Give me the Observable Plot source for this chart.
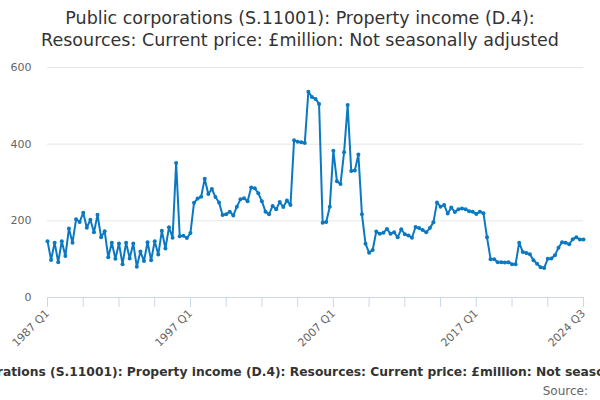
<!DOCTYPE html>
<html>
<head>
<meta charset="utf-8">
<script src="https://cdn.jsdelivr.net/npm/d3@7"></script>
<script src="https://cdn.jsdelivr.net/npm/@observablehq/plot@0.6"></script>
<style>
  html, body { margin: 0; padding: 0; background: #fff; overflow: hidden; width: 600px; height: 400px; }
  body { font-family: "DejaVu Sans", sans-serif; }
  #title { height: 56px; box-sizing: border-box; padding-top: 7px; text-align: center; font-size: 17.5px; line-height: 22px; color: #333; white-space: nowrap; }
  #chart svg { display: block; }
  #caption { width: 600px; position: relative; left: 7px; display: flex; justify-content: center; white-space: nowrap; font-size: 12.3px; font-weight: bold; line-height: 16px; margin-top: 8px; color: #333; }
  #source { width: 600px; box-sizing: border-box; padding-right: 12px; text-align: right; font-size: 12px; line-height: 16px; margin-top: 3px; color: #666; }
</style>
</head>
<body>
<div id="title">Public corporations (S.11001): Property income (D.4):<br>Resources: Current price: £million: Not seasonally adjusted</div>
<div id="chart"></div>
<div id="caption"><span>Public corporations (S.11001): Property income (D.4): Resources: Current price: £million: Not seasonally adjusted</span></div>
<div id="source">Source:</div>
<script>
// Quarterly series starting 1987 Q1
const startYear = 1987;
const startQuarter = 1;
const values = [
  147, 98, 143, 92, 147, 108, 180, 143, 204, 197,
  221, 182, 203, 170, 216, 157, 173, 105, 143, 101,
  141, 87, 143, 102, 141, 80, 120, 95, 144, 97,
  147, 112, 174, 128, 183, 156, 351, 160, 161, 155,
  168, 247, 258, 263, 310, 270, 283, 262, 248, 215,
  217, 224, 214, 237, 256, 259, 251, 287, 285, 272,
  251, 224, 217, 239, 230, 249, 236, 253, 241, 410,
  406, 405, 403, 537, 523, 518, 505, 195, 197, 237,
  383, 303, 296, 379, 502, 330, 331, 373, 217, 140,
  117, 124, 172, 166, 169, 179, 166, 170, 157, 178,
  165, 162, 156, 184, 181, 176, 170, 181, 196, 248,
  237, 241, 219, 235, 223, 230, 232, 230, 225, 224,
  218, 224, 220, 157, 100, 100, 92, 92, 91, 92,
  87, 87, 143, 119, 116, 113, 97, 88, 79, 77,
  101, 102, 110, 130, 144, 143, 139, 152, 157, 151,
  151
];
const yTicks = [0, 200, 400, 600];
const xTickEvery = 10;   // quarters between tick marks
const xLabelEvery = 40;  // quarters between labels

const data = values.map((v, i) => ({i, v}));
const n = values.length;
const quarterLabel = i => {
  const q0 = (startQuarter - 1) + i;
  return `${startYear + Math.floor(q0 / 4)} Q${(q0 % 4) + 1}`;
};
const tickIdx = d3.range(0, n, xTickEvery);
const labelIdx = d3.range(0, n, xLabelEvery).concat([n - 1]);

const lineColor = "#0b79c2";

const chart = Plot.plot({
  width: 600,
  height: 300,
  marginLeft: 47,
  marginRight: 17,
  marginTop: 11,
  marginBottom: 59,
  style: {fontFamily: "DejaVu Sans, sans-serif", fontSize: "11px", color: "#666", background: "#fff"},
  x: {domain: [0, n - 1], axis: null},
  y: {domain: [0, 600], axis: null},
  marks: [
    Plot.ruleY(yTicks.filter(d => d > 0), {stroke: "#e6e6e6", strokeWidth: 1}),
    Plot.ruleY([0], {stroke: "#ccd6eb", strokeWidth: 1}),
    Plot.axisX({ticks: tickIdx, tickSize: 10, tickFormat: () => "", label: null, stroke: "#ccd6eb", strokeOpacity: 1}),
    Plot.axisX({ticks: labelIdx, tickSize: 0, tickPadding: 14, tickRotate: -45, tickFormat: quarterLabel, label: null, fill: "#666"}),
    Plot.axisY({ticks: yTicks, tickSize: 0, tickPadding: 16, label: null, fill: "#666"}),
    Plot.line(data, {x: "i", y: "v", stroke: lineColor, strokeWidth: 2}),
    Plot.dot(data, {x: "i", y: "v", r: 2, fill: lineColor, stroke: "none"})
  ]
});
document.getElementById("chart").appendChild(chart);
</script>
</body>
</html>
